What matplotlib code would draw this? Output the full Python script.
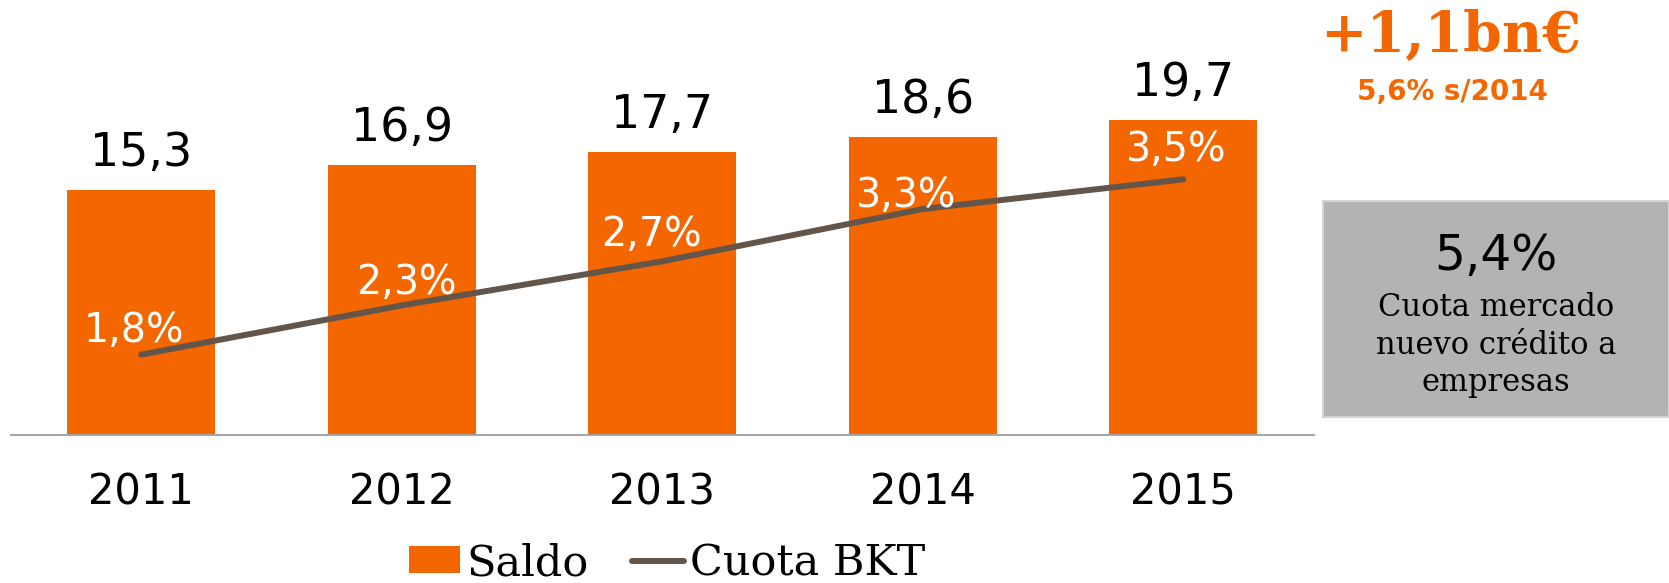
import matplotlib
matplotlib.use("Agg")
import matplotlib.pyplot as plt
from matplotlib.patches import Rectangle, Patch
from matplotlib.lines import Line2D

# ---- data ----
years = ["2011", "2012", "2013", "2014", "2015"]
saldo = [15.3, 16.9, 17.7, 18.6, 19.7]
saldo_labels = ["15,3", "16,9", "17,7", "18,6", "19,7"]
cuota = [1.80, 2.28, 2.71, 3.22, 3.51]
cuota_labels = ["1,8%", "2,3%", "2,7%", "3,3%", "3,5%"]
headline = "+1,1bn€"
subheadline = "5,6% s/2014"
box_value = "5,4%"
box_lines = ["Cuota mercado", "nuevo crédito a", "empresas"]
legend_labels = ["Saldo", "Cuota BKT"]

# ---- style ----
ORANGE = "#F46700"
LINE = "#64554A"
GRAY_AX = "#A6A6A6"
BOX = "#B3B3B3"
W, H, DPI = 1669, 583, 100
px = 72.0 / DPI  # points per pixel

fig = plt.figure(figsize=(W / DPI, H / DPI), dpi=DPI)
fig.patch.set_facecolor("white")

ax_left, ax_right, ax_bottom, ax_top = 11, 1313.5, 435, 20
ax = fig.add_axes([ax_left / W, (H - ax_bottom) / H,
                   (ax_right - ax_left) / W, (ax_bottom - ax_top) / H])
x = list(range(len(years)))
ax.bar(x, saldo, width=0.57, color=ORANGE, zorder=2)
ax.set_xlim(-0.5, 4.5)
ax.set_ylim(0, (ax_bottom - ax_top) / 16.0)
for s in ["top", "left", "right"]:
    ax.spines[s].set_visible(False)
ax.spines["bottom"].set_color(GRAY_AX)
ax.spines["bottom"].set_linewidth(1.5)
ax.set_yticks([])
ax.set_xticks(x)
ax.set_xticklabels(years, fontsize=30, family="DejaVu Sans")
ax.tick_params(axis="x", length=0, pad=26)

for xi, v, lab in zip(x, saldo, saldo_labels):
    ax.annotate(lab, xy=(xi, v), xytext=(0, 24 * px), textcoords="offset points",
                ha="center", va="baseline", fontsize=33, color="black",
                family="DejaVu Sans")

ax2 = ax.twinx()
y2_lo = 1.0156
y2_per_px = 1 / 102.5
ax2.set_ylim(y2_lo, y2_lo + (ax_bottom - ax_top) * y2_per_px)
ax2.plot(x, cuota, color=LINE, lw=4.3, solid_capstyle="round", zorder=3)
ax2.set_axis_off()

label_off = [(-7.5, 13), (4.5, 11), (-11, 15), (-17, 2), (-7, 18)]
for xi, v, lab, (dx, dy) in zip(x, cuota, cuota_labels, label_off):
    ax2.annotate(lab, xy=(xi, v), xytext=(dx * px, dy * px), textcoords="offset points",
                 ha="center", va="baseline", fontsize=28.5, color="white",
                 family="DejaVu Sans", zorder=4)

# legend
handles = [Patch(facecolor=ORANGE, edgecolor="none"),
           Line2D([0], [0], color=LINE, lw=4.3, solid_capstyle="round")]
fig.legend(handles, legend_labels, loc="center", bbox_to_anchor=(667 / W, (H - 563) / H),
           ncol=2, frameon=False, prop={"family": "DejaVu Serif", "size": 31},
           handlelength=1.2, handleheight=0.6, handletextpad=0.15, columnspacing=1.0,
           borderpad=0, borderaxespad=0)

# headline
fig.text(1451 / W, (H - 52) / H, headline, ha="center", va="baseline",
         fontsize=40, fontweight="bold", color=ORANGE, family="DejaVu Serif")
fig.text(1452 / W, (H - 100) / H, subheadline, ha="center", va="baseline",
         fontsize=20, fontweight="bold", color=ORANGE, family="DejaVu Sans")

# grey box
bx0, bx1, by0, by1 = 1323, 1669, 201, 417
fig.patches.append(Rectangle((bx0 / W, (H - by1) / H), (bx1 - bx0) / W, (by1 - by0) / H,
                             transform=fig.transFigure, facecolor=BOX,
                             edgecolor="#D4D4D4", lw=1.5, zorder=0))
cx = (bx0 + bx1) / 2 / W
fig.text(cx, (H - 270) / H, box_value, ha="center", va="baseline", fontsize=35,
         color="black", family="DejaVu Sans")
for i, line in enumerate(box_lines):
    fig.text(cx, (H - (316 + 37.5 * i)) / H, line, ha="center", va="baseline",
             fontsize=22, color="black", family="DejaVu Serif")

fig.savefig("out.png", dpi=DPI)
